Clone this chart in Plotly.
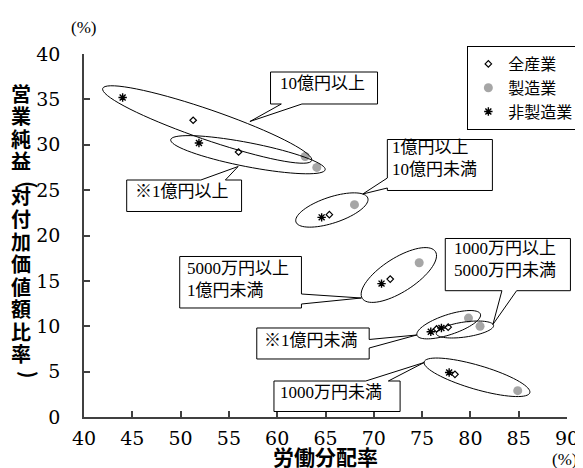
import math
import plotly.graph_objects as go

# ---- data ----
groups = ["10億円以上", "※1億円以上", "1億円以上10億円未満", "5000万円以上1億円未満",
          "1000万円以上5000万円未満", "※1億円未満", "1000万円未満"]
all_x = [51.3, 56.0, 65.4, 71.7, 77.7, 76.5, 78.4]
all_y = [32.7, 29.2, 22.3, 15.2, 9.9, 9.7, 4.7]
mfg_x = [62.9, 64.1, 68.0, 74.7, 81.0, 79.8, 84.9]
mfg_y = [28.7, 27.5, 23.4, 17.0, 10.0, 10.9, 2.9]
non_x = [44.0, 51.9, 64.6, 70.8, 77.0, 75.9, 77.8]
non_y = [35.2, 30.2, 22.0, 14.7, 9.8, 9.4, 4.9]
series_names = ["全産業", "製造業", "非製造業"]
x_ticks = [40, 45, 50, 55, 60, 65, 70, 75, 80, 85, 90]
y_ticks = [0, 5, 10, 15, 20, 25, 30, 35, 40]

# ---- layout geometry ----
W, H = 583, 468
ML, MR, MT, MB = 76, 15, 46, 59
PW, PH = W - ML - MR, H - MT - MB

SERIF = "Liberation Serif, Noto Sans CJK JP, serif"
TICKSERIF = "DejaVu Serif, serif"
CJK = "Noto Sans CJK JP"
DY = -5  # vertical correction for text boxes


def pp(px, py):
    return ((px - ML) / PW, 1 - (py - MT) / PH)


def ellipse_path(cx, cy, a, b, ang):
    th = math.radians(ang)
    pts = []
    for i in range(73):
        t = 2 * math.pi * i / 72
        px = cx + a * math.cos(th) * math.cos(t) - b * math.sin(th) * math.sin(t)
        py = cy + a * math.sin(th) * math.cos(t) + b * math.cos(th) * math.sin(t)
        pts.append(pp(px, py))
    return "M " + " L ".join(f"{x:.5f},{y:.5f}" for x, y in pts) + " Z"


def poly_path(points):
    pts = [pp(x, y) for x, y in points]
    return "M " + " L ".join(f"{x:.5f},{y:.5f}" for x, y in pts) + " Z"


fig = go.Figure()
fig.add_trace(go.Scatter(x=all_x, y=all_y, mode="markers", name=series_names[0],
                         text=groups, cliponaxis=False,
                         marker=dict(symbol="diamond-open", size=5, color="black",
                                     line=dict(width=1.2, color="black"))))
fig.add_trace(go.Scatter(x=mfg_x, y=mfg_y, mode="markers", name=series_names[1],
                         text=groups, cliponaxis=False,
                         marker=dict(symbol="circle", size=9, color="#a6a6a6")))
fig.add_trace(go.Scatter(x=non_x, y=non_y, mode="markers", name=series_names[2],
                         text=groups, cliponaxis=False,
                         marker=dict(symbol="asterisk-open", size=7, color="black",
                                     line=dict(width=1.4, color="black"))))

shapes = []
# group ellipses (pixel geometry: center, semi-axes, angle)
ellipses = [
    (201.5, 116.5, 112.4, 15, 18.7),
    (243, 146.7, 80.1, 12, 10.8),
    (328.5, 202, 38.5, 13, -18),
    (396.7, 267, 44, 17, -32),
    (464, 321.5, 29.5, 7.5, -8),
    (447.5, 316.7, 34, 10, -18),
    (476.3, 369.3, 56, 12, 16),
]
for e in ellipses:
    shapes.append(dict(type="path", xref="paper", yref="paper", path=ellipse_path(*e),
                       line=dict(color="black", width=1)))

callouts = [
    [(266, 64), (375, 64), (375, 96), (298, 96), (245, 113.5), (277, 96), (266, 96)],
    [(119.5, 172), (195, 172), (233, 158.5), (220, 172), (236.5, 172), (236.5, 203.5), (119.5, 203.5)],
    [(385, 131.5), (492, 131.5), (492, 182.5), (385, 182.5), (385, 180), (360, 186), (385, 170)],
    [(173.5, 248.5), (297.5, 248.5), (297.5, 286), (358.5, 290), (297.5, 296), (297.5, 300), (173.5, 300)],
    [(252, 320), (366.5, 320), (366.5, 331.5), (415, 327), (366.5, 340), (366.5, 351), (252, 351)],
    [(269.5, 373), (363, 373), (422.5, 354.5), (386, 373), (398, 373), (398, 403.5), (269.5, 403.5)],
    [(444, 230.5), (571.5, 230.5), (571.5, 282.7), (516.7, 282.7), (492.5, 316.5), (501.7, 282.7), (444, 282.7)],
]
for c in callouts:
    shapes.append(dict(type="path", xref="paper", yref="paper", path=poly_path(c),
                       fillcolor="white", line=dict(color="black", width=1)))

annotations = []
labels = [
    ("10億円以上", 319, 80.5, "center"),
    ("※1億円以上", 176, 188.5, "center"),
    ("1億円以上<br>10億円未満", 387.5, 155, "left"),
    ("5000万円以上<br>1億円未満", 178.5, 276.5, "left"),
    ("※1億円未満", 307, 337, "center"),
    ("1000万円未満", 274, 389, "left"),
    ("1000万円以上<br>5000万円未満", 451, 256.5, "left"),
]
for txt, px, py, al in labels:
    x, y = pp(px, py + DY)
    annotations.append(dict(text=txt, x=x, y=y, xref="paper", yref="paper",
                            xanchor=al, yanchor="middle", align="left", showarrow=False,
                            font=dict(family=SERIF, size=17, color="black")))

# y-axis title, stacked vertically (parentheses rotated to vertical form)
ytitle_chars = ["営", "業", "純", "益", "(", "対", "付", "加", "価", "値", "額", "比", "率", ")"]
ycenters = [90, 112.5, 135, 157.5, 177, 193, 215.5, 238, 260.5, 283, 305.5, 328, 350.5, 367]
for ch, py in zip(ytitle_chars, ycenters):
    is_paren = ch in "()"
    x, y = pp(12 if not is_paren else 21, py + (DY if not is_paren else 0))
    annotations.append(dict(text=ch, x=x, y=y, xref="paper", yref="paper",
                            xanchor="center", yanchor="middle", showarrow=False,
                            textangle=90 if is_paren else 0,
                            font=dict(family=CJK, size=20, color="black", weight="bold")))

x, y = pp(322, 448)
annotations.append(dict(text="労働分配率", x=x, y=y, xref="paper", yref="paper",
                        xanchor="center", yanchor="middle", showarrow=False,
                        font=dict(family=CJK, size=21, color="black", weight="bold")))
pct = "(%)"
x, y = pp(75, 25 + DY)
annotations.append(dict(text=pct, x=x, y=y, xref="paper", yref="paper",
                        xanchor="center", yanchor="middle", showarrow=False,
                        font=dict(family=SERIF, size=17, color="black")))
x, y = pp(565, 456 + DY)
annotations.append(dict(text=pct, x=x, y=y, xref="paper", yref="paper",
                        xanchor="center", yanchor="middle", showarrow=False,
                        font=dict(family=SERIF, size=17, color="black")))

axis_common = dict(showgrid=False, zeroline=False, showline=True, linecolor="#404040",
                   linewidth=1.5, ticks="inside", ticklen=6, tickwidth=1.5,
                   tickcolor="#404040",
                   tickfont=dict(family=TICKSERIF, size=19, color="black"))

lx, ly = pp(466.5, 38)
fig.update_layout(
    width=W, height=H,
    margin=dict(l=ML, r=MR, t=MT, b=MB, pad=0),
    paper_bgcolor="white", plot_bgcolor="white",
    xaxis=dict(range=[x_ticks[0], x_ticks[-1]], tickvals=x_ticks, ticklabelstandoff=3,
               **axis_common),
    yaxis=dict(range=[y_ticks[0], y_ticks[-1]], tickvals=y_ticks, ticklabelstandoff=18,
               **axis_common),
    showlegend=True,
    legend=dict(x=lx, y=ly, xanchor="left", yanchor="top", bordercolor="black",
                borderwidth=1, bgcolor="white", itemwidth=30, tracegroupgap=0,
                font=dict(family=CJK, size=16, color="black")),
    shapes=shapes,
    annotations=annotations,
)

fig.write_html("out.html")
